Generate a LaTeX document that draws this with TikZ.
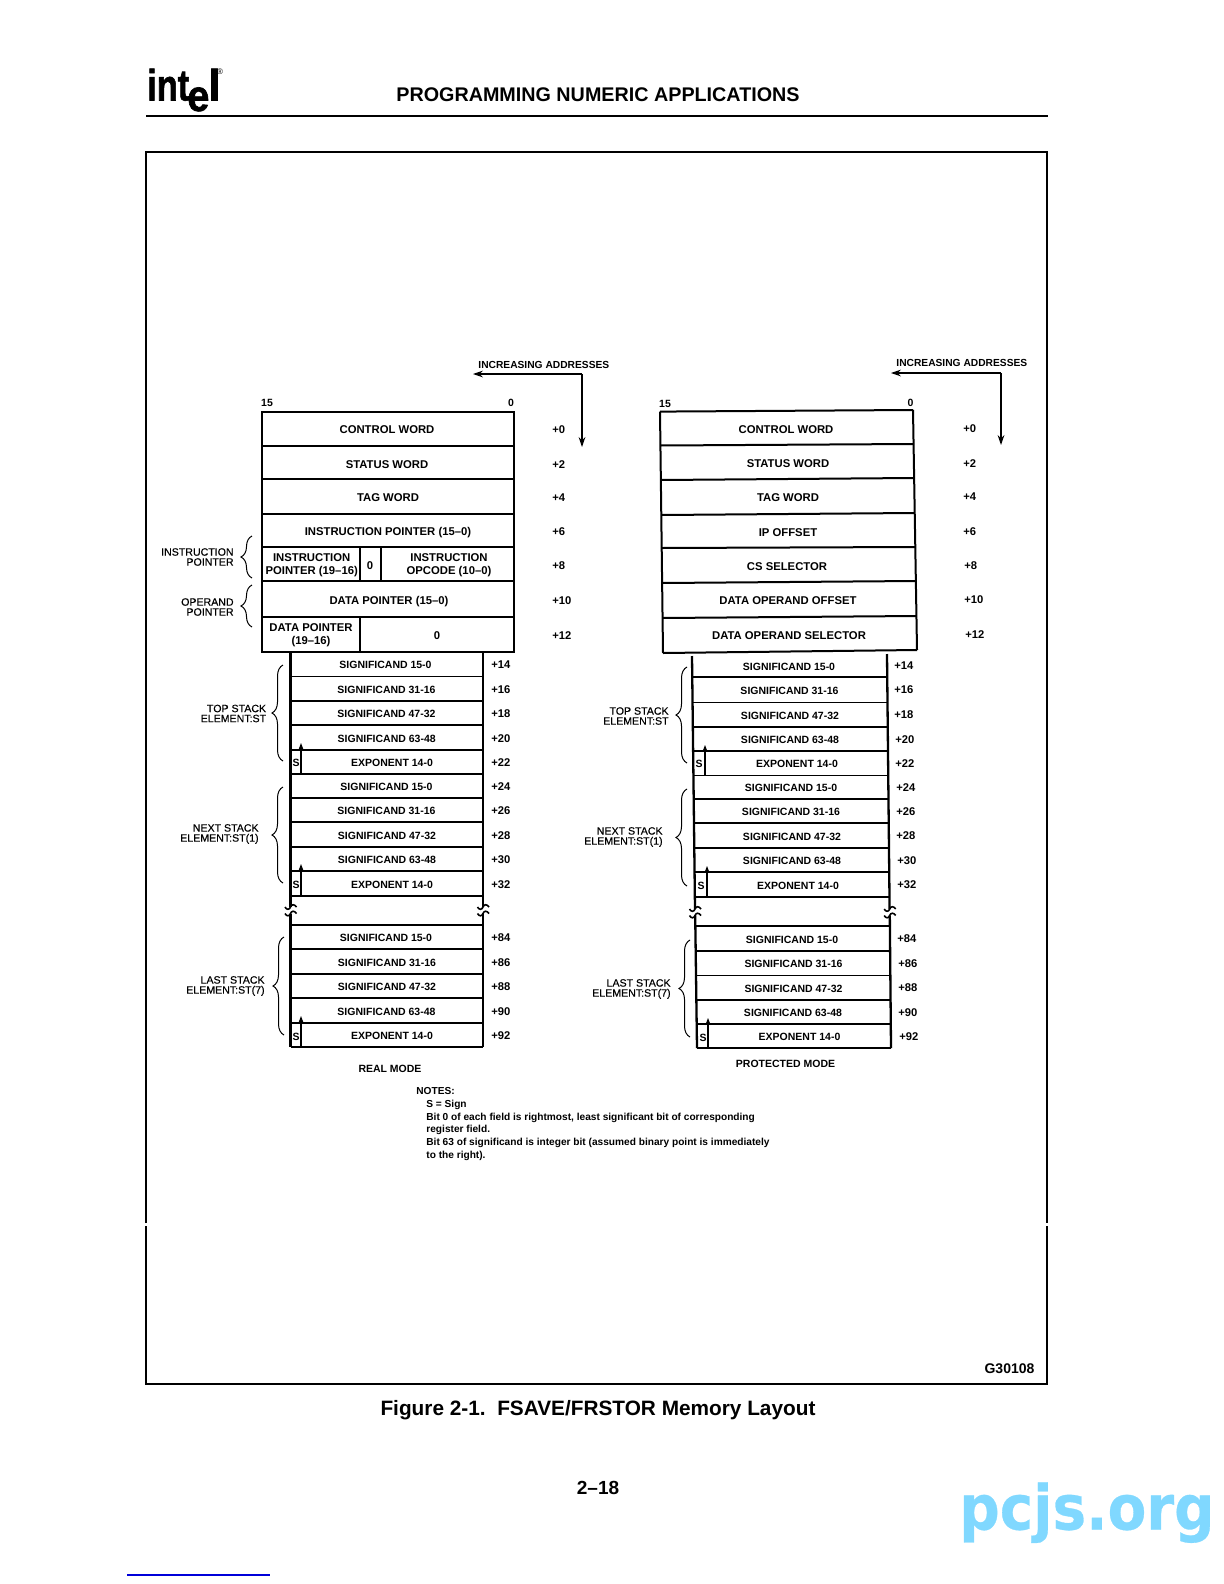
\documentclass[tikz,border=0pt]{standalone}
\usepackage{fontspec}
\setmainfont{Liberation Sans}
\newfontfamily\sidefont[FakeBold=0.4]{Liberation Sans}
\newfontfamily\logofont[FakeBold=1.5]{Liberation Sans Bold}
\newfontfamily\markfont[FakeBold=0.5]{DejaVu Sans Bold}
\usetikzlibrary{arrows.meta,decorations.pathreplacing}
\definecolor{markblue}{HTML}{80D8FF}

\tikzset{
  boxrule/.style={line width=1pt},
  rowrule/.style={line width=0.85pt},
  stackrule/.style={line width=1.15pt},
  framerule/.style={line width=1pt},
  thinrule/.style={line width=0.8pt},
  addrarrow/.style={line width=0.6pt,-{Stealth[length=5pt,width=3.4pt]}},
  signarrow/.style={line width=0.75pt,-{Stealth[length=3.5pt,width=2.6pt]}},
  sidebrace/.style={line width=0.5pt,decorate,decoration={brace,amplitude=5.5pt}},
  boxtext/.style={font=\fontsize{5.65}{6.3}\selectfont\bfseries,inner sep=0pt,text height=4.2pt,text depth=0pt},
  stacktext/.style={font=\fontsize{5.25}{6}\selectfont\bfseries,inner sep=0pt,text height=4pt,text depth=0pt},
  addrtext/.style={font=\fontsize{5.12}{6}\selectfont\bfseries,inner sep=0pt,text height=4pt,text depth=0pt,anchor=west},
  twoline/.style={font=\fontsize{5.65}{6.35}\selectfont\bfseries,inner sep=0pt,align=center},
  sidetext/.style={font=\fontsize{5.3}{5}\selectfont\sidefont,inner sep=0pt,align=right,anchor=east},
  offtext/.style={font=\fontsize{5.6}{6}\selectfont\bfseries,inner sep=0pt,text height=4pt,text depth=0pt,anchor=west},
  notetext/.style={font=\fontsize{5.07}{6.3}\selectfont\bfseries,inner sep=0pt,align=left},
  logotext/.style={font=\fontsize{22}{22}\selectfont\logofont,inner sep=0pt,anchor=base west,transform shape},
  wavebreak/.pic={
    \draw[thinrule] (-5.5,-3) .. controls (-4,0) and (-1,0) .. (0,-3) .. controls (1,-6) and (4,-6) .. (6,-3);
    \draw[thinrule] (-5.5,3.5) .. controls (-4,6.5) and (-1,6.5) .. (0,3.5) .. controls (1,0.5) and (4,0.5) .. (6,3.5);
  }
}

\begin{document}
\begin{tikzpicture}[x=0.5pt,y=-0.5pt]
  \useasboundingbox (0,0) rectangle (1224,1584);
  % page head
  \node[logotext,xscale=0.78] (logoint) at (147,100.5) {int};
  \node[logotext,xscale=0.9] (logoe) at (187,111) {e};
  \node[logotext] (logol) at (208,100.5) {l};
  \node[font=\fontsize{4}{4}\selectfont,inner sep=0pt] (logor) at (220,72) {®};
  \node[font=\fontsize{9.87}{12}\selectfont\bfseries,inner sep=0pt,anchor=base west] (pagetitle) at (396,101.5) {PROGRAMMING NUMERIC APPLICATIONS};
  \draw[line width=1.25pt] (146,116) -- (1048,116);
  % frame, with its two small gaps
  \draw[framerule] (146,1223) -- (146,152) -- (1047,152) -- (1047,1223);
  \draw[framerule] (146,1226) -- (146,1384) -- (1047,1384) -- (1047,1226);
  \draw[line width=1.4pt] (146,1384) -- (1047,1384);

  % real mode: head block
  \node[stacktext] (lbit15) at (267,402) {15};
  \node[stacktext] (lbit0) at (511,402) {0};
  \draw[boxrule] (261.5,412) rectangle (513.5,652);
  \foreach \y in {446,479,514,547,581,617}
    \draw[boxrule] (261.5,\y) -- (513.5,\y);
  \draw[boxrule] (360,547) -- (360,581);
  \draw[boxrule] (381,547) -- (381,581);
  \draw[boxrule] (360,617) -- (360,652);
  \foreach \tx/\ty/\txt/\off [count=\i] in {387/429/CONTROL WORD/+0,387/464/STATUS WORD/+2,388/497/TAG WORD/+4,388/531/INSTRUCTION POINTER (15--0)/+6,370/565/0/+8,389/600/DATA POINTER (15--0)/+10,437/635/0/+12}{
    \node[boxtext] (lword\i) at (\tx,\ty) {\txt};
    \node[offtext] (loffs\i) at (552,\ty) {\off};
  }
  \node[twoline] (lippart) at (311.7,565) {INSTRUCTION\\POINTER (19--16)};
  \node[twoline] (lopcode) at (449,565) {INSTRUCTION\\OPCODE (10--0)};
  \node[twoline] (ldppart) at (311,635) {DATA POINTER\\(19--16)};

  % real mode: stack
  \draw[stackrule] (290.5,652) -- (290.5,907);
  \draw[stackrule] (483,652) -- (483,907);
  \draw[stackrule] (290.5,913.5) -- (290.5,1047);
  \draw[stackrule] (483,913.5) -- (483,1047);
  \pic at (290.5,910) {wavebreak};
  \pic at (483,910) {wavebreak};
  \draw[rowrule] (290.5,925) -- (483,925);
  \draw[stackrule] (290.5,1047) -- (483,1047);
  \foreach \ya/\yb/\tx/\txt/\off [count=\i] in {
    652/676.5/385.5/SIGNIFICAND 15-0/+14,676.5/701/386.5/SIGNIFICAND 31-16/+16,701/725/386.5/SIGNIFICAND 47-32/+18,725/750/386.7/SIGNIFICAND 63-48/+20,750/774/392/EXPONENT 14-0/+22,
    774/798/386.5/SIGNIFICAND 15-0/+24,798/822/386.5/SIGNIFICAND 31-16/+26,822/847/387/SIGNIFICAND 47-32/+28,847/871/387/SIGNIFICAND 63-48/+30,871/896/392/EXPONENT 14-0/+32,
    925/949/386/SIGNIFICAND 15-0/+84,949/974/387/SIGNIFICAND 31-16/+86,974/998/387/SIGNIFICAND 47-32/+88,998/1023/386.5/SIGNIFICAND 63-48/+90,1023/1047/392/EXPONENT 14-0/+92}{
    \draw[rowrule] (290.5,\yb) -- (483,\yb);
    \node[stacktext] (lreg\i) at (\tx,{(\ya+\yb)/2+0.7}) {\txt};
    \node[offtext] (lroff\i) at (491,{(\ya+\yb)/2+0.7}) {\off};
  }
  \foreach \yb/\tip/\ys [count=\i] in {774/743/762,896/864/884,1047/1016/1036}{
    \coordinate (lsfoot\i) at (301,\yb);
    \coordinate (lshead\i) at (301,\tip);
    \draw[signarrow] (lsfoot\i) -- (lshead\i);
    \node[stacktext] (lsign\i) at (296,\ys) {S};
  }

  % real mode: side labels and braces
  \draw[sidebrace] (252,578) -- (252,536);
  \draw[sidebrace] (252,627) -- (252,585);
  \draw[sidebrace] (283,761) -- (283,665);
  \draw[sidebrace] (283,883) -- (283,787);
  \draw[sidebrace] (284,1035) -- (284,937);
  \node[sidetext] (lipside) at (234,557) {INSTRUCTION\\POINTER};
  \node[sidetext] (ldpside) at (234,607) {OPERAND\\POINTER};
  \node[sidetext] (ltopside) at (266.5,713.5) {TOP STACK\\ELEMENT:ST};
  \node[sidetext] (lnextside) at (259,834) {NEXT STACK\\ELEMENT:ST(1)};
  \node[sidetext] (llastside) at (265,986) {LAST STACK\\ELEMENT:ST(7)};

  % real mode: address arrows
  \node[addrtext] (laddr) at (478,364) {INCREASING ADDRESSES};
  \coordinate (lcorner) at (582,374);
  \coordinate (lleft) at (473,374);
  \coordinate (ldown) at (582,447);
  \draw[addrarrow] (lcorner) -- (lleft);
  \draw[addrarrow] (lcorner) -- (ldown);
  \node[stacktext] (lmode) at (390,1068) {REAL MODE};

  % protected mode: head block
  \node[stacktext] (pbit15) at (665,403) {15};
  \node[stacktext] (pbit0) at (910.5,402) {0};
  \draw[boxrule] (660,411.6) -- (663,653);
  \draw[boxrule] (913,410) -- (917,650);
  \foreach \xa/\ya/\xb/\yb in {660/411.6/913/410,660.5/445.5/913/444,661/480/913.5/478,661.5/515/914/513,662/548/915/547,662/583/915.5/581,662.5/618/916/616,663/653/917/650}
    \draw[boxrule] (\xa,\ya) -- (\xb,\yb);
  \foreach \tx/\ty/\ox/\txt/\off [count=\i] in {786/429/963/CONTROL WORD/+0,788/463.5/963/STATUS WORD/+2,788/497/963/TAG WORD/+4,788/532/963/IP OFFSET/+6,787/566/964/CS SELECTOR/+8,788/600/964/DATA OPERAND OFFSET/+10,789/635/965/DATA OPERAND SELECTOR/+12}{
    \node[boxtext] (pword\i) at (\tx,\ty) {\txt};
    \node[offtext] (poffs\i) at (\ox,{\ty-0.5}) {\off};
  }

  % protected mode: stack
  \draw[stackrule] (692,656) -- (695,909);
  \draw[stackrule] (887,654) -- (889.6,909);
  \draw[stackrule] (695.2,915.5) -- (697,1048);
  \draw[stackrule] (889.8,915.5) -- (891,1048);
  \pic at (695,912) {wavebreak};
  \pic at (889.7,912) {wavebreak};
  \draw[rowrule] (695.5,926) -- (890.3,926);
  \draw[stackrule] (697,1048) -- (891,1048);
  \foreach \ya/\yb/\tx/\ox/\txt/\off [count=\i] in {
    654/677/789/894/SIGNIFICAND 15-0/+14,677/702.5/789.5/894/SIGNIFICAND 31-16/+16,702.5/727/790/894/SIGNIFICAND 47-32/+18,727/751/790/895/SIGNIFICAND 63-48/+20,751/775.5/797/895/EXPONENT 14-0/+22,
    775.5/799/791/896/SIGNIFICAND 15-0/+24,799/823/791/896/SIGNIFICAND 31-16/+26,823/848/792/896/SIGNIFICAND 47-32/+28,848/872/792/897/SIGNIFICAND 63-48/+30,872/897/798/897/EXPONENT 14-0/+32,
    926/951/792/897/SIGNIFICAND 15-0/+84,951/975.5/793.5/898/SIGNIFICAND 31-16/+86,975.5/1000/793.5/898/SIGNIFICAND 47-32/+88,1000/1024/793/898/SIGNIFICAND 63-48/+90,1024/1048/799.5/899/EXPONENT 14-0/+92}{
    \draw[rowrule] ({692+(\yb-654)*5/394},\yb) -- ({887+(\yb-654)*4/394},\yb);
    \node[stacktext] (preg\i) at (\tx,{(\ya+\yb)/2+0.7}) {\txt};
    \node[offtext] (proff\i) at (\ox,{(\ya+\yb)/2}) {\off};
  }
  \foreach \xs/\xa/\yb/\tip/\ys [count=\i] in {705/699/775.5/745/763,707/701/897/866/885,708/703/1048/1018/1037}{
    \coordinate (psfoot\i) at (\xs,\yb);
    \coordinate (pshead\i) at (\xs,\tip);
    \draw[signarrow] (psfoot\i) -- (pshead\i);
    \node[stacktext] (psign\i) at (\xa,\ys) {S};
  }

  % protected mode: side labels and braces
  \draw[sidebrace] (687,763) -- (687,667);
  \draw[sidebrace] (687,886) -- (687,789);
  \draw[sidebrace] (690,1037) -- (690,940);
  \node[sidetext] (ptopside) at (669,716) {TOP STACK\\ELEMENT:ST};
  \node[sidetext] (pnextside) at (663,837) {NEXT STACK\\ELEMENT:ST(1)};
  \node[sidetext] (plastside) at (671,989) {LAST STACK\\ELEMENT:ST(7)};

  % protected mode: address arrows
  \node[addrtext] (paddr) at (896,362) {INCREASING ADDRESSES};
  \coordinate (pcorner) at (1001,373);
  \coordinate (pleft) at (891,373);
  \coordinate (pdown) at (1001,445);
  \draw[addrarrow] (pcorner) -- (pleft);
  \draw[addrarrow] (pcorner) -- (pdown);
  \node[stacktext] (pmode) at (785.5,1063) {PROTECTED MODE};

  % notes
  \node[notetext,anchor=west] (noteshead) at (416,1091) {NOTES:};
  \node[notetext,anchor=north west] (notesbody) at (426,1100) {S = Sign\\Bit 0 of each field is rightmost, least significant bit of corresponding\\register field.\\Bit 63 of significand is integer bit (assumed binary point is immediately\\to the right).};

  % page foot
  \node[font=\fontsize{7}{8}\selectfont\bfseries,inner sep=0pt] (figcode) at (1009.5,1369) {G30108};
  \node[font=\fontsize{10.4}{12}\selectfont\bfseries,inner sep=0pt] (figcaption) at (598,1410) {Figure 2-1.\ \ FSAVE/FRSTOR Memory Layout};
  \node[font=\fontsize{9.5}{12}\selectfont\bfseries,inner sep=0pt] (pagenum) at (598,1488) {2--18};
  \node[font=\fontsize{31}{36}\selectfont\markfont,text=markblue,inner sep=0pt,anchor=base west,xscale=0.91,transform shape] (pcjs) at (959,1529.5) {pcjs.org};
  \draw[line width=0.6pt,blue!85!black] (127,1575) -- (270,1575);
\end{tikzpicture}
\end{document}
